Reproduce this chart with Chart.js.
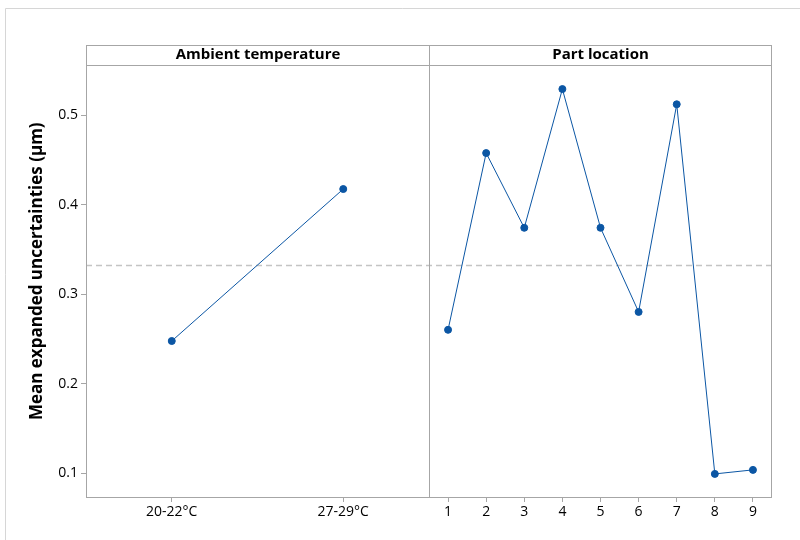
<!DOCTYPE html>
<html>
<head>
<meta charset="utf-8">
<script src="https://cdn.jsdelivr.net/npm/chart.js@4.4.1/dist/chart.umd.min.js"></script>
<style>
  html, body { margin: 0; padding: 0; background: #fff; }
  #wrap { width: 800px; height: 540px; position: relative; }
</style>
</head>
<body>
<div id="wrap"><canvas id="grafico"></canvas></div>
<script>
// datos
const panelTitles = ["Ambient temperature", "Part location"];
const tempLabels = ["20-22°C", "27-29°C"];
const tempMeans = [0.2475, 0.4173];
const locationLabels = ["1", "2", "3", "4", "5", "6", "7", "8", "9"];
const locationMeans = [0.260, 0.4575, 0.374, 0.529, 0.374, 0.280, 0.512, 0.099, 0.1035];
const yTicks = [0.1, 0.2, 0.3, 0.4, 0.5];
const grandMean = 0.3325;
const yTitle = "Mean expanded uncertainties (µm)";

const fuente = "'Open Sans', 'Noto Sans', sans-serif";
const azul = "#0b56a4";
const gris = "#a6a6a6";

const marcoPanel = {
  id: "marcoPanel",
  beforeDraw(chart) {
    const ctx = chart.ctx;
    ctx.save();
    // marco exterior
    ctx.strokeStyle = "#d6d6d6";
    ctx.lineWidth = 1;
    ctx.beginPath();
    ctx.moveTo(5.5, 540);
    ctx.lineTo(5.5, 8.5);
    ctx.lineTo(800, 8.5);
    ctx.stroke();
    ctx.restore();
  },
  beforeDatasetsDraw(chart) {
    const { ctx, chartArea } = chart;
    const y = chart.scales.y;
    ctx.save();
    // linea de la media general
    const ym = Math.round(y.getPixelForValue(grandMean)) + 0.5;
    ctx.strokeStyle = "#c4c4c4";
    ctx.lineWidth = 1.5;
    ctx.setLineDash([6, 4]);
    ctx.beginPath();
    ctx.moveTo(chartArea.left, ym);
    ctx.lineTo(chartArea.right, ym);
    ctx.stroke();
    ctx.restore();
  },
  afterDraw(chart) {
    const { ctx, chartArea } = chart;
    const x1 = chart.scales.x1;
    const top = chartArea.top - 20;
    const div = Math.round(x1.right) + 0.5;
    const l = Math.round(chartArea.left) + 0.5;
    const r = Math.round(chartArea.right) - 0.5;
    const b = Math.round(chartArea.bottom) + 0.5;
    ctx.save();
    ctx.strokeStyle = gris;
    ctx.lineWidth = 1;
    ctx.strokeRect(l, top + 0.5, r - l, b - top - 0.5);
    ctx.beginPath();
    ctx.moveTo(l, Math.round(chartArea.top) + 0.5);
    ctx.lineTo(r, Math.round(chartArea.top) + 0.5);
    ctx.moveTo(div, top);
    ctx.lineTo(div, b);
    ctx.stroke();

    // titulos de panel
    ctx.fillStyle = "#000";
    ctx.font = "bold 15px " + fuente;
    ctx.textAlign = "center";
    ctx.textBaseline = "middle";
    ctx.fillText(panelTitles[0], (l + div) / 2, top + 10);
    ctx.fillText(panelTitles[1], (div + r) / 2, top + 10);

    // titulo del eje y
    ctx.font = "bold 17px " + fuente;
    ctx.translate(37, (top + b) / 2);
    ctx.rotate(-Math.PI / 2);
    ctx.fillText(yTitle, 0, 0);
    ctx.restore();
  }
};

const ejeX = (labels) => ({
  type: "linear",
  position: "bottom",
  stack: "paneles",
  stackWeight: 1,
  min: 0.5,
  max: labels.length + 0.5,
  afterBuildTicks: s => { s.ticks = labels.map((_, i) => ({ value: i + 1 })); },
  afterFit: s => { s.height = 43; },
  border: { display: false },
  grid: { drawOnChartArea: false, tickLength: 5, color: gris },
  ticks: {
    autoSkip: false,
    maxRotation: 0,
    padding: 2,
    color: "#000",
    font: { family: fuente, size: 14 },
    callback: v => labels[Math.round(v) - 1]
  }
});

new Chart(document.getElementById("grafico"), {
  type: "line",
  data: {
    datasets: [
      {
        label: panelTitles[0],
        xAxisID: "x1",
        data: tempMeans.map((v, i) => ({ x: i + 1, y: v })),
        borderColor: azul,
        backgroundColor: azul,
        borderWidth: 1,
        pointRadius: 3.5,
        pointHoverRadius: 3.5
      },
      {
        label: panelTitles[1],
        xAxisID: "x2",
        data: locationMeans.map((v, i) => ({ x: i + 1, y: v })),
        borderColor: azul,
        backgroundColor: azul,
        borderWidth: 1,
        pointRadius: 3.5,
        pointHoverRadius: 3.5
      }
    ]
  },
  options: {
    responsive: true,
    maintainAspectRatio: false,
    animation: false,
    layout: { padding: { top: 65, right: 28, left: 0, bottom: 0 } },
    plugins: {
      legend: { display: false },
      tooltip: { enabled: false }
    },
    scales: {
      x1: ejeX(tempLabels),
      x2: ejeX(locationLabels),
      y: {
        min: 0.0732,
        max: 0.5559,
        afterBuildTicks: s => { s.ticks = yTicks.map(v => ({ value: v })); },
        afterFit: s => { s.width = 86; },
        border: { display: false },
        grid: { drawOnChartArea: false, tickLength: 5, color: gris },
        ticks: {
          padding: 3,
          color: "#000",
          font: { family: fuente, size: 14 },
          callback: v => v.toFixed(1)
        }
      }
    }
  },
  plugins: [marcoPanel]
});
</script>
</body>
</html>
